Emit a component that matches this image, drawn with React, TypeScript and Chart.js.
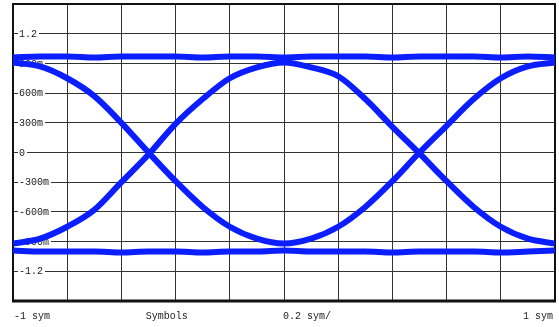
import React, { useEffect, useRef } from "react";
import { Chart, registerables } from "chart.js";

Chart.register(...registerables);

// Symbol time axis (symbols), one sample every 0.1 symbol
const symbolTimes = [-1, -0.9, -0.8, -0.7, -0.6, -0.5, -0.4, -0.3, -0.2, -0.1, 0, 0.1, 0.2, 0.3, 0.4, 0.5, 0.6, 0.7, 0.8, 0.9, 1];

// Steady "1" level trace
const highLevel = [0.96, 0.97, 0.97, 0.96, 0.97, 0.97, 0.97, 0.96, 0.97, 0.97, 0.96, 0.97, 0.97, 0.97, 0.96, 0.97, 0.97, 0.97, 0.96, 0.97, 0.96];
// Steady "0" level trace
const lowLevel = [-0.99, -1.0, -1.0, -1.0, -1.01, -1.0, -1.0, -1.01, -1.0, -1.0, -0.99, -1.0, -1.0, -1.0, -1.01, -1.0, -1.0, -1.0, -1.01, -1.0, -0.99];
// 1 -> 0 -> 1 transitions
const fallRise = [0.91, 0.87, 0.75, 0.57, 0.3, 0.0, -0.29, -0.55, -0.75, -0.87, -0.92, -0.87, -0.75, -0.55, -0.29, 0.0, 0.27, 0.54, 0.75, 0.87, 0.91];
// 0 -> 1 -> 0 transitions
const riseFall = [-0.92, -0.87, -0.75, -0.58, -0.3, -0.02, 0.29, 0.54, 0.75, 0.86, 0.91, 0.86, 0.77, 0.54, 0.26, -0.01, -0.29, -0.55, -0.75, -0.87, -0.92];

const xTickValues = [-1, -0.8, -0.6, -0.4, -0.2, 0, 0.2, 0.4, 0.6, 0.8, 1];
const yTickValues = [-1.5, -1.2, -0.9, -0.6, -0.3, 0, 0.3, 0.6, 0.9, 1.2, 1.5];
const yTickLabels = ["-1.2", "-900m", "-600m", "-300m", "0", "300m", "600m", "900m", "1.2"];
const yLabelValues = [-1.2, -0.9, -0.6, -0.3, 0, 0.3, 0.6, 0.9, 1.2];
const xAxisTexts = ["-1 sym", "Symbols", "0.2 sym/", "1 sym"];

const TRACE = "#0a1eff";
const FONT = '10px "Liberation Mono", "DejaVu Sans Mono", monospace';

const pairs = (ys: number[]) => symbolTimes.map((x, i) => ({ x, y: ys[i] }));

const overlay = {
  id: "overlay",
  beforeDatasetsDraw(chart: any) {
    const { ctx, chartArea, scales } = chart;
    const y = scales.y;
    ctx.save();
    // frame
    ctx.strokeStyle = "#111";
    ctx.lineWidth = 2;
    ctx.beginPath();
    ctx.moveTo(chartArea.left, chartArea.bottom);
    ctx.lineTo(chartArea.left, chartArea.top);
    ctx.lineTo(chartArea.right, chartArea.top);
    ctx.lineTo(chartArea.right, chartArea.bottom);
    ctx.stroke();
    ctx.lineWidth = 3;
    ctx.beginPath();
    ctx.moveTo(chartArea.left - 1, chartArea.bottom);
    ctx.lineTo(chartArea.right + 1, chartArea.bottom);
    ctx.stroke();
    // y labels inside the plot
    ctx.font = FONT;
    ctx.textBaseline = "middle";
    ctx.textAlign = "left";
    yLabelValues.forEach((v, i) => {
      const py = y.getPixelForValue(v);
      const label = yTickLabels[i];
      const w = ctx.measureText(label).width;
      const lx = chartArea.left + 6;
      ctx.fillStyle = "#fff";
      ctx.fillRect(lx - 1, py - 5, w + 3, 10);
      ctx.fillStyle = "#222";
      ctx.fillText(label, lx, py + 0.5);
    });
    ctx.restore();
  },
  afterDraw(chart: any) {
    const { ctx, chartArea, scales } = chart;
    const x = scales.x;
    ctx.save();
    ctx.font = FONT;
    ctx.fillStyle = "#222";
    ctx.textBaseline = "alphabetic";
    const ty = chartArea.bottom + 18;
    ctx.textAlign = "left";
    ctx.fillText(xAxisTexts[0], x.getPixelForValue(-1) + 1, ty);
    ctx.fillText(xAxisTexts[1], x.getPixelForValue(-0.51), ty);
    ctx.fillText(xAxisTexts[2], x.getPixelForValue(0) - 1, ty);
    ctx.textAlign = "right";
    ctx.fillText(xAxisTexts[3], x.getPixelForValue(1) - 2, ty);
    ctx.restore();
  },
};

export default function App() {
  const ref = useRef<HTMLCanvasElement | null>(null);
  useEffect(() => {
    if (!ref.current) return;
    const ds = (data: number[]) => ({
      data: pairs(data),
      showLine: true,
      borderColor: TRACE,
      backgroundColor: TRACE,
      borderWidth: 6,
      pointRadius: 0,
      cubicInterpolationMode: "monotone" as const,
      fill: false,
    });
    const chart = new Chart(ref.current, {
      type: "scatter",
      data: {
        datasets: [ds(highLevel), ds(lowLevel), ds(fallRise), ds(riseFall)],
      },
      plugins: [overlay],
      options: {
        animation: false,
        responsive: false,
        devicePixelRatio: 1,
        layout: { padding: { left: 13, top: 4, right: 4, bottom: 26 } },
        plugins: { legend: { display: false }, tooltip: { enabled: false } },
        scales: {
          x: {
            type: "linear",
            min: -1,
            max: 1,
            afterBuildTicks: (s: any) => {
              s.ticks = xTickValues.map((v) => ({ value: v }));
            },
            ticks: { display: false },
            grid: { color: "#333", lineWidth: 1, drawTicks: false },
            border: { display: false },
          },
          y: {
            type: "linear",
            min: -1.5,
            max: 1.5,
            afterBuildTicks: (s: any) => {
              s.ticks = yTickValues.map((v) => ({ value: v }));
            },
            ticks: { display: false },
            grid: { color: "#333", lineWidth: 1, drawTicks: false },
            border: { display: false },
          },
        },
      },
    });
    return () => chart.destroy();
  }, []);
  return (
    <div style={{ position: "fixed", left: 0, top: 0, width: 559, height: 327, background: "#fff" }}>
      <canvas ref={ref} width={559} height={327} style={{ display: "block" }} />
    </div>
  );
}
